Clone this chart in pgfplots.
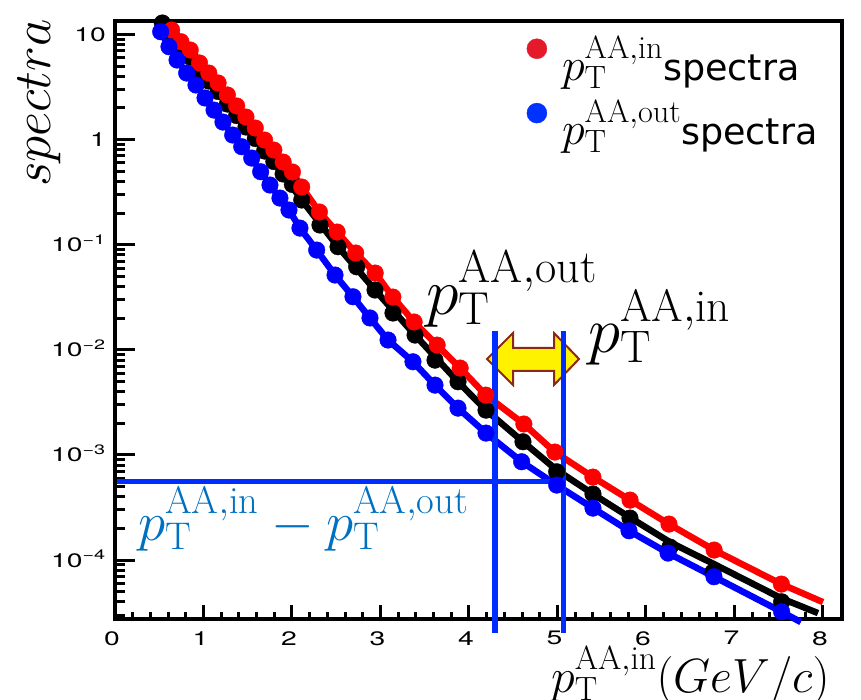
\RequirePackage{fix-cm}
\documentclass[border=0pt]{standalone}
\usepackage{fontspec}
\usepackage{graphicx}
\usepackage{pgfplots}
\pgfplotsset{compat=1.18}
\usepackage{pgfplotstable}
\newfontfamily\heros{TeX Gyre Heros}
\newfontfamily\dejavu{DejaVu Sans}
\definecolor{legred}{RGB}{228,26,42}
\definecolor{legblue}{RGB}{0,50,255}
\definecolor{annblue}{RGB}{0,45,255}
\definecolor{txtblue}{RGB}{0,112,192}
\definecolor{arrowedge}{RGB}{140,40,20}
\newcommand\tl[1]{\scalebox{1.45}[1]{\heros #1}}

% measured points
\pgfplotstableread{
x y
0.64 11.04
0.745 8.54
0.85 7.12
0.955 5.36
1.06 4.30
1.165 3.46
1.27 2.66
1.375 2.09
1.48 1.64
1.585 1.29
1.69 0.991
1.795 0.796
1.90 0.612
2.005 0.492
2.11 0.354
2.31 0.2048
2.51 0.1321
2.72 0.0834
2.94 0.0538
3.14 0.0318
3.38 0.0184
3.64 0.0111
3.90 0.00671
4.19 0.00371
4.62 0.00197
4.97 0.001066
5.40 0.000616
5.82 0.000372
6.26 0.000220
6.77 0.0001245
7.53 0.0000591
}\redtab

\pgfplotstableread{
x y
0.535 12.87
0.64 9.68
0.745 7.41
0.85 6.11
0.955 4.54
1.06 3.61
1.165 2.87
1.27 2.18
1.375 1.695
1.48 1.318
1.585 1.024
1.69 0.779
1.795 0.619
1.90 0.471
2.005 0.374
2.11 0.2663
2.316 0.1540
2.520 0.0957
2.731 0.0617
2.938 0.0371
3.141 0.0224
3.390 0.01383
3.616 0.00799
3.876 0.00497
4.192 0.00267
4.610 0.001335
4.991 0.000692
5.401 0.000425
5.819 0.000251
6.271 0.000133
6.757 0.0000769
7.533 0.0000401
}\blacktab

% black fit line
\pgfplotstableread{
x y
0.535 12.87
0.955 4.54
1.375 1.695
1.795 0.619
2.11 0.2663
2.520 0.0957
2.938 0.0371
3.390 0.01383
3.876 0.00497
4.192 0.00267
4.610 0.001335
4.991 0.000720
5.401 0.000425
5.819 0.000254
6.271 0.000148
6.768 0.0000916
7.537 0.0000430
7.944 0.0000313
}\blackline

\pgfplotstableread{
x y
0.516 10.63
0.610 7.65
0.701 5.72
0.810 4.30
0.915 3.31
1.017 2.49
1.119 1.91
1.220 1.47
1.330 1.106
1.432 0.856
1.545 0.668
1.646 0.495
1.751 0.370
1.864 0.278
1.966 0.214
2.090 0.144
2.279 0.0890
2.486 0.0515
2.689 0.0320
2.881 0.0201
3.085 0.0124
3.367 0.0077
3.616 0.00462
3.876 0.00279
4.192 0.001616
4.595 0.000862
4.991 0.000517
5.401 0.000312
5.808 0.000190
6.249 0.0001166
6.768 0.0000694
7.533 0.0000322
}\bluetab

\begin{document}
\begin{tikzpicture}
\useasboundingbox (0,0) rectangle (861pt,700pt);
% double arrow
\filldraw[fill=yellow, draw=arrowedge, line width=2pt, line join=miter]
  (487pt,341pt) -- (513pt,367pt) -- (513pt,352pt) -- (554pt,352pt) -- (554pt,367pt)
  -- (579pt,341pt) -- (554pt,315pt) -- (554pt,329pt) -- (513pt,329pt) -- (513pt,315pt) -- cycle;
\begin{axis}[
  at={(115pt,81pt)}, anchor=south west,
  scale only axis, width=727pt, height=598pt,
  xmin=0, xmax=8.215, ymin=2.75e-5, ymax=13.45,
  ymode=log,
  clip=false,
  axis line style={line width=3.5pt},
  tick pos=left,
  tick style={line width=3pt, black},
  xtick style={/pgfplots/major tick length=14pt, /pgfplots/minor tick length=7pt},
  ytick style={/pgfplots/major tick length=20pt, /pgfplots/minor tick length=10pt},
  xtick={0,1,2,3,4,5,6,7,8},
  xticklabels={\tl{0},\tl{1},\tl{2},\tl{3},\tl{4},\tl{5},\tl{6},\tl{7},\tl{8}},
  minor x tick num=4,
  ytick={1e-4,1e-3,1e-2,1e-1,1,10},
  yticklabels={\tl{10\textsuperscript{−4}},\tl{10\textsuperscript{−3}},\tl{10\textsuperscript{−2}},\tl{10\textsuperscript{−1}},\tl{1},\tl{10}},
  minor ytick={3e-5,4e-5,5e-5,6e-5,7e-5,8e-5,9e-5,2e-4,3e-4,4e-4,5e-4,6e-4,7e-4,8e-4,9e-4,2e-3,3e-3,4e-3,5e-3,6e-3,7e-3,8e-3,9e-3,2e-2,3e-2,4e-2,5e-2,6e-2,7e-2,8e-2,9e-2,0.2,0.3,0.4,0.5,0.6,0.7,0.8,0.9,2,3,4,5,6,7,8,9},
  tick label style={font=\fontsize{19.5}{20}\selectfont},
  xticklabel style={anchor=north, inner sep=0pt, yshift=-12pt, xshift=-3pt},
  yticklabel style={anchor=base east, inner sep=0pt, xshift=-9pt, yshift=-7pt},
  legend style={at={(0.566,0.976)}, anchor=north west, draw=none, fill=none,
    inner sep=0pt, row sep=18pt, column sep=15pt,
    nodes={inner sep=0pt},
    font=\fontsize{46}{46}\selectfont},
  legend cell align=left,
]
% black
\addplot[black, line width=6.5pt, forget plot] table[x=x,y=y] {\blackline};
\addplot[black, only marks, mark=*, mark size=8.3pt, mark options={draw=none, fill=black}, forget plot] table[x=x,y=y] {\blacktab};
\addplot[black, forget plot, only marks, mark=none, error bars/.cd, y dir=both, y explicit, error bar style={line width=4.5pt}, error mark=none]
  coordinates {(6.757,7.69e-5) +- (0,1.3e-5) (7.533,4.01e-5) +- (0,0.7e-5)};
% red
\addplot[red, line width=6.5pt, forget plot] table[x=x,y=y] {\redtab};
\addplot[red, line width=6.5pt, forget plot] coordinates {(7.53,5.91e-5) (8.0,3.98e-5)};
\addplot[red, only marks, mark=*, mark size=8.3pt, mark options={draw=none, fill=red}, forget plot] table[x=x,y=y] {\redtab};
% blue
\addplot[blue, line width=6.5pt, forget plot] table[x=x,y=y] {\bluetab};
\addplot[blue, line width=6.5pt, forget plot] coordinates {(7.533,3.22e-5) (7.75,2.57e-5)};
\addplot[blue, only marks, mark=*, mark size=8.3pt, mark options={draw=none, fill=blue}, forget plot] table[x=x,y=y] {\bluetab};
% annotation lines
\draw[annblue, line width=5.5pt] (axis cs:4.294,0.0151) -- (axis cs:4.294,2.016e-5);
\draw[annblue, line width=5.5pt] (axis cs:5.066,0.0151) -- (axis cs:5.066,2.016e-5);
\draw[annblue, line width=5pt] (axis cs:0.02,5.65e-4) -- (axis cs:5.066,5.65e-4);
% legend
\addlegendimage{legend image code/.code={\fill[legred] (10pt,10pt) circle (10pt);}}
\addlegendentry{$p_{\mathrm{T}}^{\mathrm{AA{,}in}}${\fontsize{36.5}{36.5}\selectfont\dejavu spectra}}
\addlegendimage{legend image code/.code={\fill[legblue] (10pt,10pt) circle (10pt);}}
\addlegendentry{$p_{\mathrm{T}}^{\mathrm{AA{,}out}}${\fontsize{36.5}{36.5}\selectfont\dejavu spectra}}
\end{axis}
% labels and annotation texts
\node[rotate=90, anchor=base west, inner sep=0pt, font=\fontsize{53}{53}\selectfont] at (50pt,513pt) {$spectra$};
\node[anchor=base west, inner sep=0pt, font=\fontsize{48}{48}\selectfont] at (551pt,7pt) {$p_{\mathrm{T}}^{\mathrm{AA{,}in}}(GeV/c)$};
\node[anchor=base west, inner sep=0pt, font=\fontsize{66}{66}\selectfont] at (426pt,385.5pt) {$p_{\mathrm{T}}^{\mathrm{AA{,}out}}$};
\node[anchor=base west, inner sep=0pt, font=\fontsize{65}{65}\selectfont] at (588pt,347.5pt) {$p_{\mathrm{T}}^{\mathrm{AA{,}in}}$};
\node[anchor=base west, inner sep=0pt, text=txtblue, font=\fontsize{55}{55}\selectfont] at (138pt,159.6pt) {$p_{\mathrm{T}}^{\mathrm{AA{,}in}} - p_{\mathrm{T}}^{\mathrm{AA{,}out}}$};
\end{tikzpicture}
\end{document}
